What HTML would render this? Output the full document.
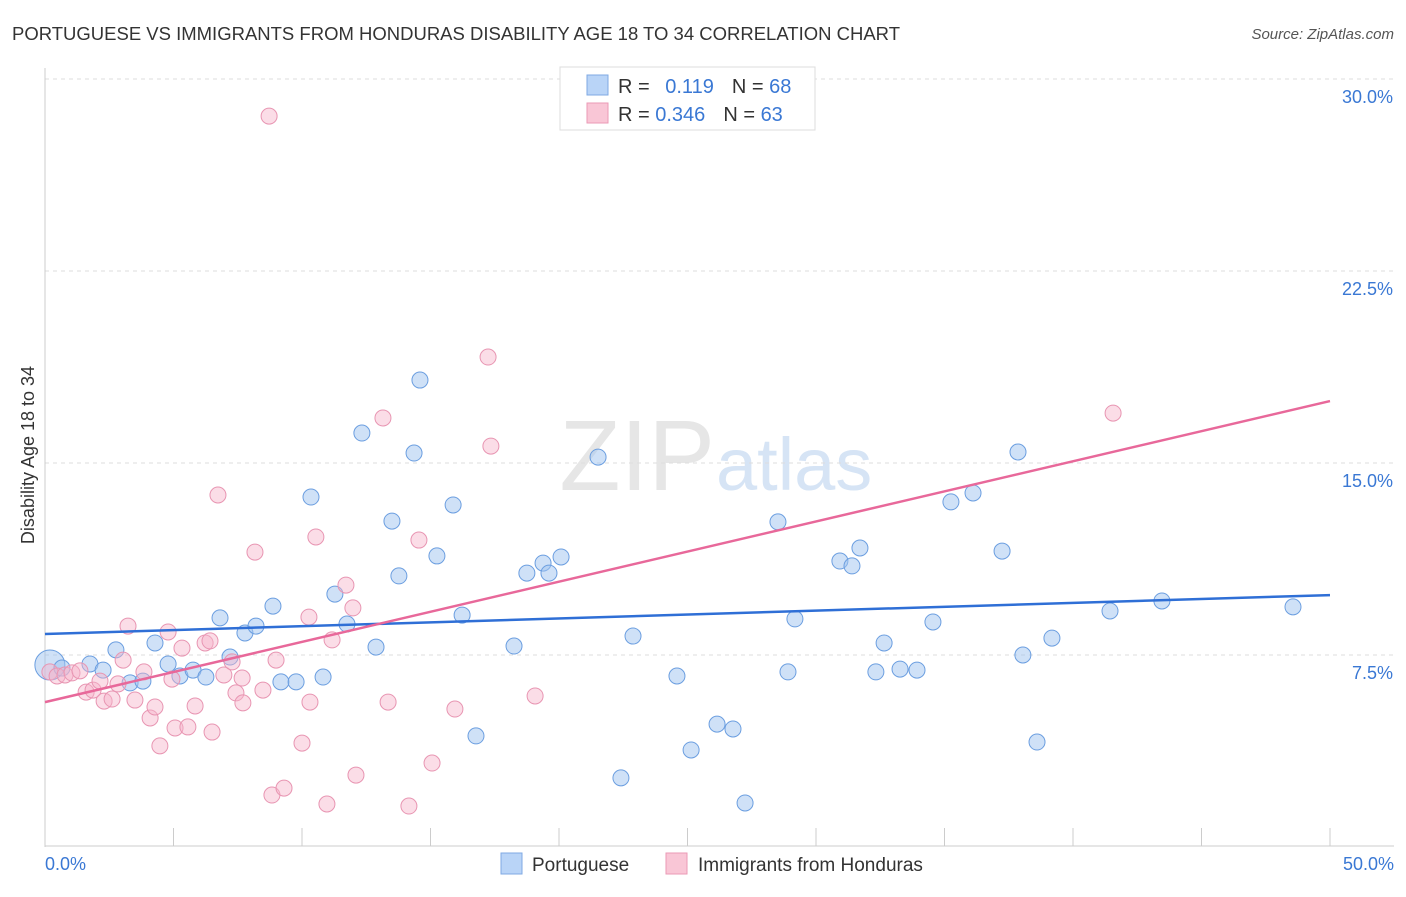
<!DOCTYPE html>
<html><head><meta charset="utf-8"><style>
body{margin:0;background:#fff;font-family:"Liberation Sans",sans-serif;}
svg text{font-family:"Liberation Sans",sans-serif;}
</style></head><body>
<svg id="chart" width="1406" height="892" xmlns="http://www.w3.org/2000/svg">
<text x="12" y="40" font-size="18" fill="#333" textLength="888" lengthAdjust="spacingAndGlyphs">PORTUGUESE VS IMMIGRANTS FROM HONDURAS DISABILITY AGE 18 TO 34 CORRELATION CHART</text>
<text x="1394" y="39" font-size="15" fill="#555" font-style="italic" text-anchor="end">Source: ZipAtlas.com</text>
<text x="715" y="490" font-size="100" fill="#e6e6e6" text-anchor="end" font-family="Liberation Serif">ZIP</text>
<text x="716" y="490" font-size="74" fill="#d6e4f5">atlas</text>
<text transform="translate(34,455) rotate(-90)" font-size="18" fill="#333" text-anchor="middle">Disability Age 18 to 34</text>
<g id="grid"></g><g id="pts"></g><g id="lines"></g>
<g>
<rect x="560" y="67" width="255" height="63" fill="#fff" stroke="#ddd"/>
<rect x="587" y="75" width="21" height="20" fill="#b9d4f7" stroke="#7fa9e3"/>
<rect x="587" y="103" width="21" height="20" fill="#f9c6d6" stroke="#eb9ab6"/>
<text x="618" y="93" font-size="20" fill="#333">R = <tspan fill="#3a78d4" dx="10">0.119</tspan><tspan dx="18" fill="#333">N = </tspan><tspan fill="#3a78d4">68</tspan></text>
<text x="618" y="121" font-size="20" fill="#333">R = <tspan fill="#3a78d4">0.346</tspan><tspan dx="18" fill="#333">N = </tspan><tspan fill="#3a78d4">63</tspan></text>
</g>
<g>
<rect x="501" y="853" width="21" height="21" fill="#b9d4f7" stroke="#7fa9e3"/>
<text x="532" y="871" font-size="19" fill="#333">Portuguese</text>
<rect x="666" y="853" width="21" height="21" fill="#f9c6d6" stroke="#eb9ab6"/>
<text x="698" y="871" font-size="19" fill="#333">Immigrants from Honduras</text>
</g>
</svg>
<script>
const yTicks=[7.5,15,22.5,30];
const yTickLabels=["7.5%","15.0%","22.5%","30.0%"];
const xTicks=[0,5,10,15,20,25,30,35,40,45,50];
const blueX=[0.19,0.66,1.75,2.26,2.76,3.31,3.81,4.28,4.79,5.25,5.76,6.26,6.81,7.20,7.78,8.21,8.87,9.18,9.77,10.35,10.82,11.28,11.75,12.33,12.88,13.50,13.77,14.36,14.59,15.25,15.88,16.23,16.77,18.25,18.75,19.38,19.61,20.08,21.52,22.41,22.88,24.59,25.14,26.15,26.77,27.24,28.52,28.91,29.18,30.93,31.40,31.71,32.33,32.65,33.27,33.93,34.55,35.25,36.11,37.24,37.86,38.05,38.60,39.18,41.44,43.46,48.56];
const blueY=[7.11,6.99,7.15,6.91,7.70,6.41,6.48,7.97,7.15,6.68,6.91,6.64,8.95,7.42,8.36,8.63,9.41,6.45,6.45,13.67,6.64,9.88,8.71,16.17,7.81,12.73,10.59,15.39,18.24,11.37,13.36,9.06,4.34,7.85,10.70,11.09,10.70,11.33,15.23,2.70,8.24,6.68,3.79,4.80,4.61,1.72,12.70,6.84,8.91,11.17,10.98,11.68,6.84,7.97,6.95,6.91,8.79,13.48,13.83,11.56,15.43,7.50,4.10,8.16,9.22,9.61,9.38];
const pinkX=[0.19,0.47,0.78,1.05,1.36,1.60,1.87,2.14,2.30,2.61,2.84,3.04,3.23,3.50,3.85,4.09,4.28,4.47,4.79,4.94,5.06,5.33,5.56,5.84,6.23,6.42,6.50,6.73,6.96,7.28,7.43,7.67,7.70,8.17,8.48,8.72,8.83,8.99,9.30,10.00,10.27,10.31,10.54,10.97,11.17,11.71,11.98,12.10,13.15,13.35,14.16,14.55,15.06,15.95,17.24,17.35,19.07,41.56];
const pinkY=[6.84,6.68,6.72,6.80,6.88,6.05,6.13,6.48,5.70,5.78,6.37,7.30,8.63,5.74,6.84,5.04,5.47,3.95,8.40,6.56,4.65,7.77,4.69,5.51,7.97,8.05,4.49,13.75,6.72,7.23,6.02,6.60,5.63,11.52,6.13,28.55,2.03,7.30,2.30,4.06,8.98,5.66,12.11,1.68,8.09,10.23,9.34,2.81,16.76,5.66,1.60,11.99,3.28,5.39,19.14,15.66,5.90,16.95];
const blueTrend=[8.32,9.84];
const pinkTrend=[5.66,17.42];
const NS="http://www.w3.org/2000/svg";
const X=v=>45+v/50*1285, Y=v=>847-v/7.5*192;
function mk(t,a,p){const e=document.createElementNS(NS,t);for(const k in a)e.setAttribute(k,a[k]);p.appendChild(e);return e;}
const g=document.getElementById('grid');
yTicks.forEach((v,i)=>{
 const l=mk('line',{x1:45,x2:1394,y1:Y(v),y2:Y(v),stroke:'#ddd','stroke-dasharray':'4,4'},g);
 
 
 const t=mk('text',{x:1393,y:Y(v)+24,'font-size':18,fill:'#3a78d4','text-anchor':'end'},g);t.textContent=yTickLabels[i];
 
 
});
mk('line',{x1:45,x2:45,y1:68,y2:847,stroke:'#ccc'},g);
mk('line',{x1:45,x2:1394,y1:846,y2:846,stroke:'#ccc'},g);
xTicks.forEach(v=>{const l=mk('line',{x1:X(v),x2:X(v),y1:828,y2:846,stroke:'#ccc'},g);
 
 });
let t=mk('text',{x:45,y:870,'font-size':18,fill:'#3a78d4'},g);t.textContent='0.0%';


t=mk('text',{x:1394,y:870,'font-size':18,fill:'#3a78d4','text-anchor':'end'},g);t.textContent='50.0%';


const p=document.getElementById('pts');
blueX.forEach((x,i)=>{const c=mk('circle',{cx:X(x),cy:Y(blueY[i]),r:i==0?15:8,fill:'rgba(160,195,240,0.5)',stroke:'#6b9ee0','stroke-width':1},p);
 
 });
pinkX.forEach((x,i)=>{const c=mk('circle',{cx:X(x),cy:Y(pinkY[i]),r:8,fill:'rgba(247,180,202,0.45)',stroke:'#e895b2','stroke-width':1},p);
 
 });
const L=document.getElementById('lines');
let bl=mk('line',{x1:X(0),y1:Y(blueTrend[0]),x2:X(50),y2:Y(blueTrend[1]),stroke:'#2f6fd6','stroke-width':2.5},L);


let pl=mk('line',{x1:X(0),y1:Y(pinkTrend[0]),x2:X(50),y2:Y(pinkTrend[1]),stroke:'#e8689a','stroke-width':2.5},L);


</script>
</body></html>
